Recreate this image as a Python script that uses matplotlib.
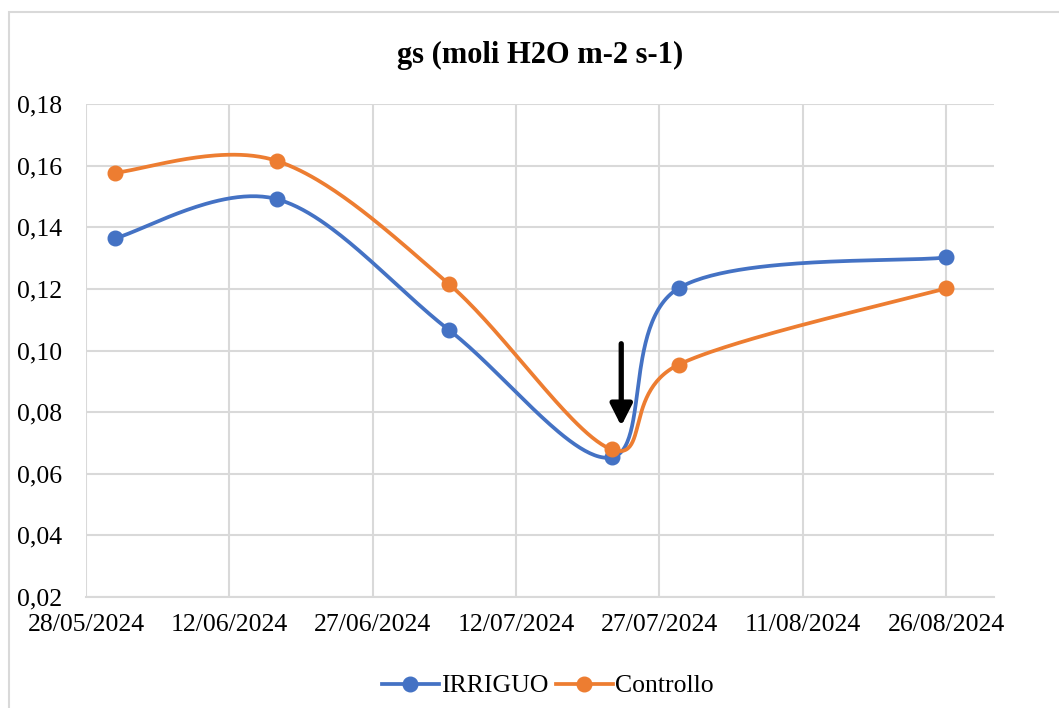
import numpy as np
import matplotlib
matplotlib.use("Agg")
import matplotlib.pyplot as plt
import matplotlib.dates as mdates
from matplotlib.patches import Rectangle
from matplotlib.ticker import FuncFormatter, MultipleLocator
from datetime import date

# data
dates = [date(2024, 5, 31), date(2024, 6, 17), date(2024, 7, 5),
         date(2024, 7, 22), date(2024, 7, 29), date(2024, 8, 26)]
irriguo = [0.1364, 0.1491, 0.1066, 0.0653, 0.1202, 0.1302]
controllo = [0.1577, 0.1615, 0.1215, 0.0679, 0.0954, 0.1202]
tick_dates = [date(2024, 5, 28), date(2024, 6, 12), date(2024, 6, 27), date(2024, 7, 12),
              date(2024, 7, 27), date(2024, 8, 11), date(2024, 8, 26)]

BLUE = "#4472C4"
ORANGE = "#ED7D31"
GRID = "#D9D9D9"

plt.rcParams['font.family'] = ['Liberation Serif', 'DejaVu Serif']


def smooth(xs, ys, n=60):
    # excel-like smoothed line: bezier segments with catmull-rom control points
    x = np.asarray(xs, float)
    y = np.asarray(ys, float)
    px = np.concatenate([[x[0]], x, [x[-1]]])
    py = np.concatenate([[y[0]], y, [y[-1]]])
    t = np.linspace(0, 1, n)
    ox, oy = [], []
    for i in range(len(x) - 1):
        p0x, p0y = px[i + 1], py[i + 1]
        p3x, p3y = px[i + 2], py[i + 2]
        c1x = p0x + (px[i + 2] - px[i]) / 6
        c1y = p0y + (py[i + 2] - py[i]) / 6
        c2x = p3x - (px[i + 3] - px[i + 1]) / 6
        c2y = p3y - (py[i + 3] - py[i + 1]) / 6
        b0 = (1 - t) ** 3
        b1 = 3 * (1 - t) ** 2 * t
        b2 = 3 * (1 - t) * t ** 2
        b3 = t ** 3
        ox.append(b0 * p0x + b1 * c1x + b2 * c2x + b3 * p3x)
        oy.append(b0 * p0y + b1 * c1y + b2 * c2y + b3 * p3y)
    return np.concatenate(ox), np.concatenate(oy)


xnum = mdates.date2num(dates)

fig = plt.figure(figsize=(10.59, 7.08), dpi=100)
ax = fig.add_axes([86 / 1059, 1 - 597 / 708, (994 - 86) / 1059, (597 - 104) / 708])

# chart area border
fig.patches.append(Rectangle((9 / 1059, -0.05), 1.1, 1 - 12 / 708 + 0.05,
                             transform=fig.transFigure, fill=False,
                             edgecolor=GRID, linewidth=1.5))

for vals, col, lab in [(irriguo, BLUE, "IRRIGUO"), (controllo, ORANGE, "Controllo")]:
    sx, sy = smooth(xnum, vals)
    ax.plot(sx, sy, color=col, lw=2.7, zorder=3, solid_capstyle='round')
    ax.plot(xnum, vals, 'o', color=col, ms=10.5, zorder=4)
    ax.plot([], [], '-o', color=col, lw=2.7, ms=10.5, label=lab)

# arrow
ax.annotate("", xy=(mdates.date2num(date(2024, 7, 23)), 0.0755),
            xytext=(mdates.date2num(date(2024, 7, 23)), 0.1022),
            arrowprops=dict(arrowstyle="-|>,head_width=0.33,head_length=0.65",
                            mutation_scale=20, color="black", lw=3.8,
                            shrinkA=0, shrinkB=0), zorder=5)

ax.set_xlim(mdates.date2num(date(2024, 5, 28)), mdates.date2num(date(2024, 8, 31)))
ax.set_ylim(0.02, 0.18)
ax.set_xticks(mdates.date2num(tick_dates))
ax.xaxis.set_major_formatter(mdates.DateFormatter("%d/%m/%Y"))
ax.yaxis.set_major_locator(MultipleLocator(0.02))
ax.yaxis.set_major_formatter(FuncFormatter(lambda v, p: f"{v:.2f}".replace(".", ",")))
ax.grid(True, color=GRID, lw=1.5)
ax.set_axisbelow(True)
for s in ["top", "right", "left"]:
    ax.spines[s].set_visible(False)
ax.spines["bottom"].set_color(GRID)
ax.spines["bottom"].set_linewidth(1.5)
ax.tick_params(axis="both", length=0, labelsize=18.5)
ax.tick_params(axis="y", pad=17)
ax.tick_params(axis="x", pad=12)

fig.text(540 / 1059, 1 - 55 / 708, "gs (moli H2O m-2 s-1)", ha="center", va="center",
         fontsize=22, fontweight="bold")

fig.legend(loc="center", bbox_to_anchor=(548 / 1059, 1 - 686 / 708), ncol=2, frameon=False,
           fontsize=18.5, handlelength=2.2, handletextpad=0.1, columnspacing=0.3)

fig.savefig("out.png", dpi=100)
